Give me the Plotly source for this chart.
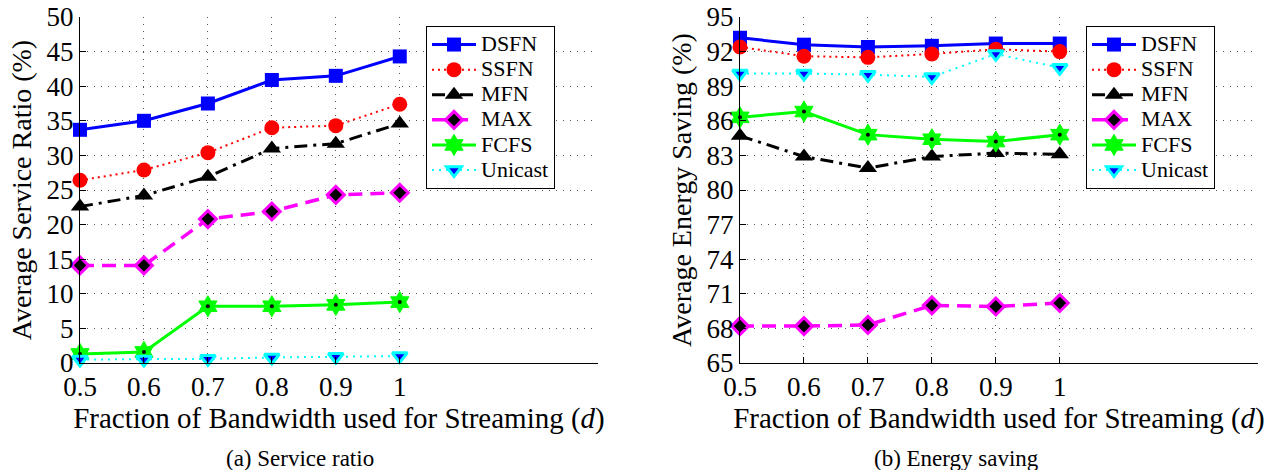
import plotly.graph_objects as go

# ---------------- data ----------------
x_vals = [0.5, 0.6, 0.7, 0.8, 0.9, 1.0]
series_names = ["DSFN", "SSFN", "MFN", "MAX", "FCFS", "Unicast"]

# (a) Average Service Ratio (%)
sr_dsfn = [33.7, 35.0, 37.5, 40.9, 41.5, 44.3]
sr_ssfn = [26.4, 27.9, 30.4, 34.0, 34.3, 37.4]
sr_mfn = [22.6, 24.2, 26.9, 31.0, 31.7, 34.6]
sr_max = [14.1, 14.1, 20.8, 21.9, 24.3, 24.6]
sr_fcfs = [1.3, 1.6, 8.2, 8.2, 8.4, 8.8]
sr_unicast = [0.5, 0.5, 0.6, 0.8, 0.9, 1.0]

# (b) Average Energy Saving (%)
es_dsfn = [93.2, 92.6, 92.4, 92.5, 92.7, 92.7]
es_ssfn = [92.4, 91.6, 91.5, 91.8, 92.2, 92.0]
es_mfn = [84.7, 82.9, 81.9, 82.9, 83.2, 83.1]
es_max = [68.2, 68.2, 68.3, 70.0, 69.9, 70.2]
es_fcfs = [86.3, 86.8, 84.8, 84.4, 84.2, 84.8]
es_unicast = [90.1, 90.1, 90.0, 89.8, 91.8, 90.6]

x_ticks = [0.5, 0.6, 0.7, 0.8, 0.9, 1]
x_ticktext = ["0.5", "0.6", "0.7", "0.8", "0.9", "1"]
sr_ticks = list(range(0, 51, 5))
es_ticks = list(range(65, 96, 3))

x_title = "Fraction of Bandwidth used for Streaming (<i>d</i>)"
sr_title = "Average Service Ratio (%)"
es_title = "Average Energy Saving (%)"
captions = ["(a) Service ratio", "(b) Energy saving"]

# ---------------- styles ----------------
FONT = "Liberation Serif"
styles = {
    "DSFN": dict(line=dict(color="#0000FF", width=3, dash="solid"),
                 marker=dict(symbol="square", size=14, color="#0000FF")),
    "SSFN": dict(line=dict(color="#FF0000", width=2, dash="2px,4px"),
                 marker=dict(symbol="circle", size=15, color="#FF0000")),
    "MFN": dict(line=dict(color="#000000", width=3, dash="13px,6px,3px,6px"),
                marker=dict(symbol="triangle-up", size=16, color="#000000")),
    "MAX": dict(line=dict(color="#FF00FF", width=3.5, dash="14px,8px"),
                marker=dict(symbol="diamond", size=13, color="#000000",
                            line=dict(color="#FF00FF", width=3))),
    "FCFS": dict(line=dict(color="#00FF00", width=3, dash="solid"),
                 marker=dict(symbol="hexagram", size=16, color="#00FF00",
                             line=dict(color="#00FF00", width=1))),
    "Unicast": dict(line=dict(color="#00FFFF", width=2, dash="2px,5px"),
                    marker=dict(symbol="triangle-down", size=13, color="#0000FF",
                                line=dict(color="#00FFFF", width=3))),
}

LEG_FS = 22


def leg_name(n):
    return f'<span style="font-size:{LEG_FS}px">{n}</span>'


fig = go.Figure()

panels = [
    ("x", "y", "legend", [sr_dsfn, sr_ssfn, sr_mfn, sr_max, sr_fcfs, sr_unicast]),
    ("x2", "y2", "legend2", [es_dsfn, es_ssfn, es_mfn, es_max, es_fcfs, es_unicast]),
]

for xa, ya, leg, data in panels:
    for name, vals in zip(series_names, data):
        st = styles[name]
        fig.add_trace(go.Scatter(
            x=x_vals, y=vals, mode="lines+markers", name=leg_name(name),
            line=st["line"], marker=st["marker"], xaxis=xa, yaxis=ya,
            legend=leg, cliponaxis=False,
        ))
        if name == "FCFS":
            fig.add_trace(go.Scatter(
                x=x_vals, y=vals, mode="markers", showlegend=False,
                marker=dict(symbol="circle", size=4, color="#000000"),
                xaxis=xa, yaxis=ya, cliponaxis=False, hoverinfo="skip",
            ))

# the page body margin is removed by post_script, so figure px == page px
W, H = 1272, 470


def px(xp):
    return xp / W


def py(yp):
    return 1 - yp / H


y_dom = [py(363), py(17)]

axis_common = dict(
    showline=True, linecolor="#000000", linewidth=1,
    ticks="inside", ticklen=6, tickcolor="#000000", tickwidth=1,
    showgrid=True, gridcolor="#555555", gridwidth=1, griddash="1px,6px",
    zeroline=False, mirror=False, automargin=False,
    ticklabeloverflow="allow",
    tickfont=dict(family=FONT, size=27, color="#000000"),
)

fig.update_layout(
    template="none",
    width=W, height=H,
    margin=dict(l=0, r=0, t=0, b=0, pad=0),
    paper_bgcolor="white", plot_bgcolor="white",
    font=dict(family=FONT, color="#000000"),
    xaxis=dict(domain=[px(80), px(598)], range=[0.5, 1.31], tickvals=x_ticks,
               ticktext=x_ticktext, anchor="y",
               title=dict(text=x_title, font=dict(family=FONT, size=29), standoff=0),
               **axis_common),
    yaxis=dict(domain=y_dom, range=[0, 50], tickvals=sr_ticks, anchor="x",
               title=dict(text=sr_title, font=dict(family=FONT, size=28), standoff=6),
               **axis_common),
    xaxis2=dict(domain=[px(740), px(1258)], range=[0.5, 1.31], tickvals=x_ticks,
                ticktext=x_ticktext, anchor="y2",
                title=dict(text=x_title, font=dict(family=FONT, size=29), standoff=0),
                **axis_common),
    yaxis2=dict(domain=y_dom, range=[65, 95], tickvals=es_ticks, anchor="x2",
                title=dict(text=es_title, font=dict(family=FONT, size=28), standoff=6),
                **axis_common),
    legend=dict(x=px(426), y=py(26), xanchor="left", yanchor="top",
                bgcolor="white", bordercolor="#000000", borderwidth=1,
                font=dict(family=FONT, size=17, color="#000000"),
                itemwidth=44, tracegroupgap=0),
    legend2=dict(x=px(1086), y=py(26), xanchor="left", yanchor="top",
                 bgcolor="white", bordercolor="#000000", borderwidth=1,
                 font=dict(family=FONT, size=17, color="#000000"),
                 itemwidth=44, tracegroupgap=0),
    showlegend=True,
)

cap_x = [px(300), px(956)]
for cx, txt in zip(cap_x, captions):
    fig.add_annotation(x=cx, y=py(458), xref="paper", yref="paper",
                       text=txt, showarrow=False, xanchor="center", yanchor="middle",
                       font=dict(family=FONT, size=23, color="#000000"))

fig.write_html(
    "out.html",
    config={"displayModeBar": False},
    post_script="document.body.style.margin='0px';document.body.style.overflow='hidden';",
)
